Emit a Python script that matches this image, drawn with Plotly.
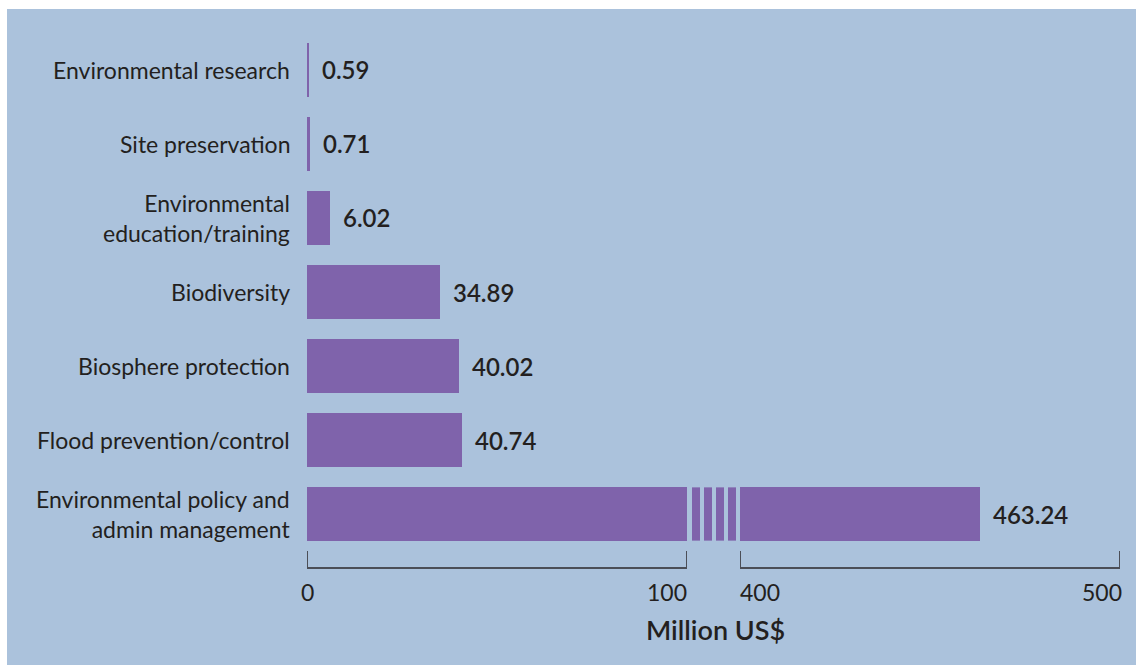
import plotly.graph_objects as go

# Spending by environmental protection area (million US$)
categories = [
    "Environmental policy and<br>admin management",
    "Flood prevention/control",
    "Biosphere protection",
    "Biodiversity",
    "Environmental<br>education/training",
    "Site preservation",
    "Environmental research",
]
values = [463.24, 40.74, 40.02, 34.89, 6.02, 0.71, 0.59]
value_labels = ["463.24", "40.74", "40.02", "34.89", "6.02", "0.71", "0.59"]

# Broken value axis: a low segment and a high segment
low_range = [0, 100]
high_range = [400, 500]
low_ticks = [0, 100]
high_ticks = [400, 500]
axis_title = "Million US$"

W, H = 1136, 665
BG = "#abc2dc"
BAR = "#7f63ab"
TXT = "#231f20"
AXIS = "#4b4e57"
FONT = "Lato, 'Open Sans', sans-serif"
BAR_W = 0.72


def px(x):
    return x / W


def py(y):
    return (H - y) / H


low_dom = [px(307), px(687)]
high_dom = [px(740), px(1120)]
y_dom = [py(567), py(33)]
y_pad = 16 / 74  # room below the lowest bar for the axis line
cat_idx = list(range(len(categories)))

fig = go.Figure()

# low segment bars (capped at the top of the low range)
fig.add_trace(go.Bar(
    x=[min(v, low_range[1]) for v in values], y=cat_idx, orientation="h",
    marker=dict(color=BAR, line=dict(width=0)), width=BAR_W,
    xaxis="x", yaxis="y", hoverinfo="skip", showlegend=False,
))
# high segment bars (only the values that reach past the break)
big = [(i, v) for i, v in zip(cat_idx, values) if v > high_range[0]]
fig.add_trace(go.Bar(
    x=[v for _, v in big], y=[i for i, _ in big], orientation="h",
    marker=dict(color=BAR, line=dict(width=0)), width=BAR_W,
    xaxis="x2", yaxis="y2", hoverinfo="skip", showlegend=False,
))

axis_common = dict(
    showgrid=False, zeroline=False, showline=True, linecolor=AXIS, linewidth=2,
    ticks="", showticklabels=False, fixedrange=True,
)
y_common = dict(
    domain=y_dom, range=[-0.5 - y_pad, len(categories) - 0.5],
    showgrid=False, zeroline=False, showline=False, showticklabels=False,
    ticks="", fixedrange=True,
)
fig.update_layout(
    width=W, height=H,
    margin=dict(l=0, r=0, t=0, b=0),
    paper_bgcolor="white", plot_bgcolor="rgba(0,0,0,0)",
    bargap=0,
    font=dict(family=FONT, color=TXT),
    xaxis=dict(domain=low_dom, range=low_range, anchor="y", **axis_common),
    xaxis2=dict(domain=high_dom, range=high_range, anchor="y2", **axis_common),
    yaxis=dict(anchor="x", **y_common),
    yaxis2=dict(anchor="x2", overlaying="y", **y_common),
)

shapes = [
    # background panel
    dict(type="rect", xref="paper", yref="paper", x0=px(7), x1=1, y0=0, y1=py(9),
         fillcolor=BG, line=dict(width=0), layer="below"),
]

# upward tick marks on each axis segment
for ref, ticks in (("x", low_ticks), ("x2", high_ticks)):
    for t in ticks:
        shapes.append(dict(
            type="line", xref=ref, yref="paper", x0=t, x1=t, y0=py(567), y1=py(551),
            line=dict(color=AXIS, width=2),
        ))

# break marks: short stripes bridging the gap between the two segments
n_stripes, stripe_w, stripe_gap = 4, 8, 4
gap_l, gap_r = 687, 740
total = n_stripes * stripe_w + (n_stripes - 1) * stripe_gap
start = gap_l + (gap_r - gap_l - total) / 2 + 0.5
for i, v in zip(cat_idx, values):
    if v > high_range[0]:
        for k in range(n_stripes):
            x0 = start + k * (stripe_w + stripe_gap)
            shapes.append(dict(
                type="rect", xref="paper", yref="y", x0=px(x0), x1=px(x0 + stripe_w),
                y0=i - BAR_W / 2, y1=i + BAR_W / 2,
                fillcolor=BAR, line=dict(width=0), layer="above",
            ))
fig.update_layout(shapes=shapes)

annotations = []
# category labels, right-aligned to the left of the bars
for i, c in zip(cat_idx, categories):
    annotations.append(dict(
        x=0, y=i, xref="x", yref="y", text=c, showarrow=False,
        xanchor="right", yanchor="middle", xshift=-15, align="right",
        font=dict(size=23, color=TXT, family=FONT),
    ))

# value labels at the end of each bar
for i, v, lab in zip(cat_idx, values, value_labels):
    on_high = v > high_range[0]
    annotations.append(dict(
        x=v, y=i, xref="x2" if on_high else "x", yref="y2" if on_high else "y",
        text=lab, showarrow=False, xanchor="left", yanchor="middle", xshift=11,
        font=dict(size=24, color=TXT, family=FONT, weight=600),
    ))

# tick labels of the broken axis
tick_y = py(592)
tick_specs = [
    ("x", low_ticks[0], "center", 0),
    ("x", low_ticks[1], "right", 2),
    ("x2", high_ticks[0], "left", -2),
    ("x2", high_ticks[1], "right", 4),
]
for ref, t, anchor, shift in tick_specs:
    annotations.append(dict(
        x=t, y=tick_y, xref=ref, yref="paper", text=str(t), showarrow=False,
        xanchor=anchor, yanchor="middle", xshift=shift,
        font=dict(size=23, color=TXT, family=FONT),
    ))

annotations.append(dict(
    x=px(715), y=py(629), xref="paper", yref="paper", text=axis_title, showarrow=False,
    xanchor="center", yanchor="middle",
    font=dict(size=27, color=TXT, family=FONT, weight=600),
))
fig.update_layout(annotations=annotations)

fig.write_html("out.html", config=dict(displayModeBar=False, staticPlot=True))
